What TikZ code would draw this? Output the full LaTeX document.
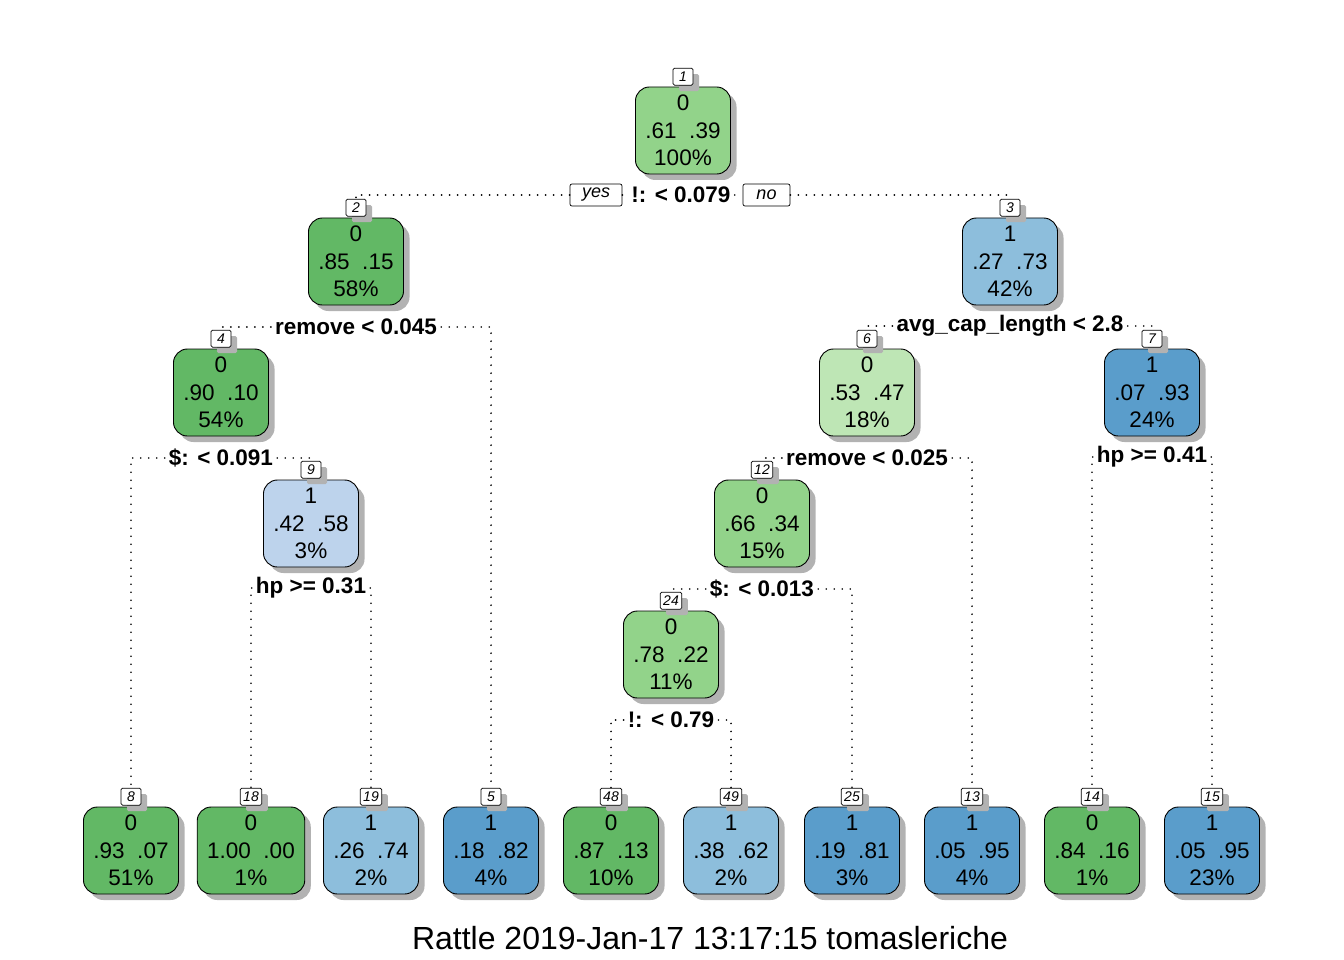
\documentclass[tikz,border=0pt]{standalone}
\usepackage{fontspec}
\setmainfont{Liberation Sans}
\usetikzlibrary{shadows}

% fill colours of the tree nodes
\definecolor{dgreen}{HTML}{62B865}
\definecolor{mgreen}{HTML}{92D38A}
\definecolor{pgreen}{HTML}{BEE6B5}
\definecolor{pblue}{HTML}{BDD3EC}
\definecolor{lblue}{HTML}{8DBEDC}
\definecolor{dblue}{HTML}{5A9DCB}

\newcommand{\pgap}{\hspace{0.556em}}

\tikzset{
  boxshadow/.style={drop shadow={shadow xshift=6pt, shadow yshift=-6pt, fill=black!30, opacity=1}},
  tnode/.style={draw, line width=0.9pt, rounded corners=14pt, align=center,
    inner xsep=10pt, inner ysep=0pt, minimum height=87pt, minimum width=94pt,
    font=\fontsize{22.5}{27.5}\selectfont, boxshadow},
  numlab/.style={draw, line width=0.7pt, rounded corners=1.5pt, fill=white,
    inner xsep=3pt, inner ysep=0pt, minimum width=20pt, minimum height=17pt,
    font=\fontsize{14}{14}\selectfont\itshape, anchor=south, boxshadow},
  splitlab/.style={inner xsep=4pt, inner ysep=2pt, font=\fontsize{22.5}{27}\bfseries\selectfont},
  yesno/.style={draw, line width=0.7pt, rounded corners=2pt, fill=white,
    inner xsep=0pt, inner ysep=0pt, minimum height=22pt,
    font=\fontsize{18}{18}\selectfont\itshape},
  dotline/.style={line width=1.9pt, dash pattern=on 0pt off 8pt, line cap=round},
}

\begin{document}
\begin{tikzpicture}[x=1pt,y=-1pt]
\useasboundingbox (0,0) rectangle (1344,960);

% interior nodes
\node[tnode, fill=mgreen] (n1)  at (683,130.5)  {0\\.61\pgap.39\\100\%};
\node[tnode, fill=dgreen] (n2)  at (356,261.5)  {0\\.85\pgap.15\\58\%};
\node[tnode, fill=lblue]  (n3)  at (1010,261.5) {1\\.27\pgap.73\\42\%};
\node[tnode, fill=dgreen] (n4)  at (221,392.5)  {0\\.90\pgap.10\\54\%};
\node[tnode, fill=pgreen] (n6)  at (867,392.5)  {0\\.53\pgap.47\\18\%};
\node[tnode, fill=dblue]  (n7)  at (1152,392.5) {1\\.07\pgap.93\\24\%};
\node[tnode, fill=pblue]  (n9)  at (311,523.5)  {1\\.42\pgap.58\\3\%};
\node[tnode, fill=mgreen] (n12) at (762,523.5)  {0\\.66\pgap.34\\15\%};
\node[tnode, fill=mgreen] (n24) at (671,654.5)  {0\\.78\pgap.22\\11\%};

% leaves
\node[tnode, fill=dgreen] (n8)  at (131,850.5)  {0\\.93\pgap.07\\51\%};
\node[tnode, fill=dgreen] (n18) at (251,850.5)  {0\\1.00\pgap.00\\1\%};
\node[tnode, fill=lblue]  (n19) at (371,850.5)  {1\\.26\pgap.74\\2\%};
\node[tnode, fill=dblue]  (n5)  at (491,850.5)  {1\\.18\pgap.82\\4\%};
\node[tnode, fill=dgreen] (n48) at (611,850.5)  {0\\.87\pgap.13\\10\%};
\node[tnode, fill=lblue]  (n49) at (731,850.5)  {1\\.38\pgap.62\\2\%};
\node[tnode, fill=dblue]  (n25) at (852,850.5)  {1\\.19\pgap.81\\3\%};
\node[tnode, fill=dblue]  (n13) at (972,850.5)  {1\\.05\pgap.95\\4\%};
\node[tnode, fill=dgreen] (n14) at (1092,850.5) {0\\.84\pgap.16\\1\%};
\node[tnode, fill=dblue]  (n15) at (1212,850.5) {1\\.05\pgap.95\\23\%};

% node numbers
\foreach \k in {1,2,3,4,5,6,7,8,9,12,13,14,15,18,19,24,25,48,49}
  \node[numlab] (l\k) at ([yshift=1pt]n\k.north) {\k};

% split labels
\node[splitlab] (s1)  at (681,195)  {!: < 0.079};
\node[splitlab] (s2)  at (356,327)  {remove < 0.045};
\node[splitlab] (s3)  at (1010,326) {avg\_cap\_length < 2.8};
\node[splitlab] (s4)  at (221,458)  {\$: < 0.091};
\node[splitlab] (s6)  at (867,458)  {remove < 0.025};
\node[splitlab] (s7)  at (1152,457) {hp >= 0.41};
\node[splitlab] (s9)  at (311,588)  {hp >= 0.31};
\node[splitlab] (s12) at (762,589)  {\$: < 0.013};
\node[splitlab] (s24) at (671,720)  {!: < 0.79};

\node[yesno, minimum width=52pt] (yes) at (596,195) {yes};
\node[yesno, minimum width=47pt] (no)  at (766.5,195) {no};

% branches
\draw[dotline] (yes.east) -- (s1.west);
\draw[dotline] (s1.east) -- (no.west);
\draw[dotline] (yes.west) -| (l2.north);
\draw[dotline] (no.east) -| (l3.north);
\draw[dotline] (s2.west) -| (l4.north);
\draw[dotline] (s2.east) -| (l5.north);
\draw[dotline] (s3.west) -| (l6.north);
\draw[dotline] (s3.east) -| (l7.north);
\draw[dotline] (s4.west) -| (l8.north);
\draw[dotline] (s4.east) -| (l9.north);
\draw[dotline] (s6.west) -| (l12.north);
\draw[dotline] (s6.east) -| (l13.north);
\draw[dotline] (s7.west) -| (l14.north);
\draw[dotline] (s7.east) -| (l15.north);
\draw[dotline] (s9.west) -| (l18.north);
\draw[dotline] (s9.east) -| (l19.north);
\draw[dotline] (s12.west) -| (l24.north);
\draw[dotline] (s12.east) -| (l25.north);
\draw[dotline] (s24.west) -| (l48.north);
\draw[dotline] (s24.east) -| (l49.north);

% caption
\node[font=\fontsize{32}{36}\selectfont] (title) at (710,938) {Rattle 2019-Jan-17 13:17:15 tomasleriche};
\end{tikzpicture}
\end{document}
